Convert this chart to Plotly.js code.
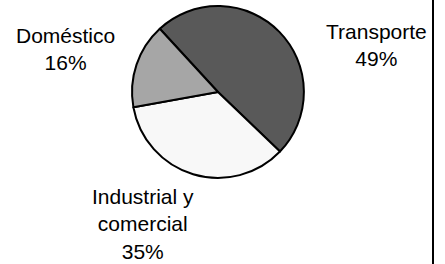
<!DOCTYPE html>
<html>
<head>
<meta charset="utf-8">
<script src="https://cdn.plot.ly/plotly-3.0.1.min.js"></script>
<style>html,body{margin:0;padding:0;background:#fff;}#chart{width:445px;height:264px;}</style>
</head>
<body>
<div id="chart"></div>
<script>
const labels = ["Transporte", "Industrial y<br>comercial", "Doméstico"];
const values = [49, 35, 16];
const colors = ["#595959", "#f8f8f8", "#a6a6a6"];
// label placement (paper coords)
const labelX = [0.846, 0.321, 0.148];
const labelY = [0.830, 0.152, 0.815];

const annotations = labels.map((l, i) => ({
  xref: "paper", yref: "paper",
  x: labelX[i], y: labelY[i],
  xanchor: "center", yanchor: "middle",
  text: l + "<br>" + values[i] + "%",
  showarrow: false,
  font: {family: "Liberation Sans, Arial, sans-serif", size: 21, color: "#000"}
}));

const data = [{
  type: "pie",
  labels: labels,
  values: values,
  sort: false,
  direction: "clockwise",
  rotation: -42.6,
  marker: {colors: colors, line: {color: "#000", width: 2}},
  textinfo: "none",
  hoverinfo: "label+percent",
  showlegend: false,
  domain: {x: [0.2966, 0.683], y: [0.326, 0.977]}
}];

const layout = {
  width: 445, height: 264,
  margin: {l: 0, r: 0, t: 0, b: 0},
  paper_bgcolor: "#fff",
  plot_bgcolor: "#fff",
  showlegend: false,
  annotations: annotations,
  shapes: [{
    type: "line", xref: "paper", yref: "paper",
    x0: 433 / 445, x1: 433 / 445, y0: 0, y1: 1,
    line: {color: "#000", width: 2}
  }]
};

Plotly.newPlot("chart", data, layout, {displayModeBar: false, staticPlot: true});
</script>
</body>
</html>
